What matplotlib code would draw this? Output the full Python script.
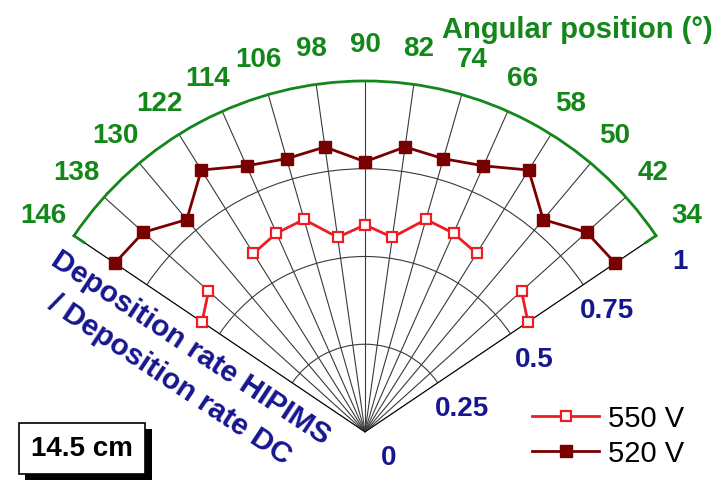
import numpy as np
import matplotlib
matplotlib.use('Agg')
import matplotlib.pyplot as plt
from matplotlib import transforms
from matplotlib import patheffects

# ---- data ----
angles = [146, 138, 130, 122, 114, 106, 98, 90, 82, 74, 66, 58, 50, 42, 34]
rate_550 = [0.56, 0.60, np.nan, 0.60, 0.62, 0.63, 0.56, 0.59, 0.56, 0.63, 0.62, 0.60, np.nan, 0.60, 0.56]
rate_520 = [0.86, 0.85, 0.79, 0.88, 0.83, 0.81, 0.82, 0.77, 0.82, 0.81, 0.83, 0.88, 0.79, 0.85, 0.86]
theta_labels = [str(a) for a in angles]
r_ticks = [0, 0.25, 0.5, 0.75, 1]
r_labels = ['0', '0.25', '0.5', '0.75', '1']
series_names = ['550 V', '520 V']

GREEN = '#13871a'
BLUE = '#16168f'
RED = '#ee1c24'
DARKRED = '#780000'

plt.rcParams['font.family'] = ['Liberation Sans', 'DejaVu Sans']

fig = plt.figure(figsize=(7.2, 4.81), dpi=100)
# square polar axes; wedge (34..146 deg) is fitted inside it
ax = fig.add_axes([0.1028, -0.1403, 0.8083, 1.2100], projection='polar')
ax.set_thetamin(min(angles))
ax.set_thetamax(max(angles))
ax.set_ylim(0, 1)

th = np.deg2rad(angles)
ax.set_xticks(th)
ax.set_xticklabels([])
mid = np.deg2rad([(a + b) / 2 for a, b in zip(angles[:-1], angles[1:])])
ax.set_xticks(mid, minor=True)
ax.tick_params(axis='x', which='both', direction='in', color=GREEN, width=1.5)
ax.tick_params(axis='x', which='major', length=6)
ax.tick_params(axis='x', which='minor', length=6)
ax.set_yticks(r_ticks[1:-1])
ax.set_yticklabels([])
ax.tick_params(axis='y', length=0)
ax.grid(True, color='#3a3a3a', lw=0.8)
ax.xaxis.grid(True, which='minor', lw=0)

ax.spines['polar'].set_color(GREEN)
ax.spines['polar'].set_linewidth(2)
for s in ['start', 'end', 'inner']:
    ax.spines[s].set_visible(False)

# short green hooks at the arc ends
for a in (min(angles), max(angles)):
    ax.plot([np.deg2rad(a)] * 2, [0.965, 1.0], color=GREEN, lw=2, clip_on=False, zorder=5)

# series
ax.plot(th, rate_520, color=DARKRED, lw=2, marker='s', ms=8.5, mfc=DARKRED, mec=DARKRED,
        label=series_names[1], zorder=4, clip_on=False)
ax.plot(th, rate_550, color=RED, lw=2, marker='s', ms=7.5, mfc='white', mec=RED, mew=1.6,
        label=series_names[0], zorder=4, clip_on=False)

# theta labels
for a, lab in zip(angles, theta_labels):
    ax.text(np.deg2rad(a), 1.105, lab, ha='center', va='center', color=GREEN,
            fontsize=20, fontweight='bold', clip_on=False)

# radial labels
off = transforms.offset_copy(ax.transData, fig=fig, x=24, y=-25, units='dots')
for r, lab in zip(r_ticks, r_labels):
    ax.text(np.deg2rad(min(angles)), r, lab, transform=off, ha='center', va='center',
            color=BLUE, fontsize=20, fontweight='bold', clip_on=False)

fig.text(577 / 720, 1 - 30 / 481, 'Angular position (°)', ha='center', va='center',
         color=GREEN, fontsize=21, fontweight='bold')

fig.text(180 / 720, 1 - 364 / 481, 'Deposition rate HIPIMS\n/ Deposition rate DC',
         rotation=-33.5, rotation_mode='anchor', ha='center', va='center',
         multialignment='center', linespacing=1.45, color=BLUE, fontsize=21.5, fontweight='bold')

# legend
h, l = ax.get_legend_handles_labels()
order = [l.index(n) for n in series_names]
fig.legend([h[i] for i in order], [l[i] for i in order], loc='upper left',
           bbox_to_anchor=(532 / 720, 1 - 405 / 481), frameon=False, fontsize=21,
           handlelength=2.3, handletextpad=0.3, borderpad=0, borderaxespad=0,
           labelspacing=0.25)

# scale box with shadow
bx, by = 82 / 720, 1 - 449 / 481
t = fig.text(bx, by, '14.5 cm', ha='center', va='center', fontsize=20, fontweight='bold',
             color='black', bbox=dict(boxstyle='square,pad=0.45', fc='white', ec='black', lw=1.2))
t.get_bbox_patch().set_path_effects([
    patheffects.SimplePatchShadow(offset=(4.5, -4.5), shadow_rgbFace='black', alpha=1.0),
    patheffects.Normal()])

fig.savefig('out.png', dpi=100)
